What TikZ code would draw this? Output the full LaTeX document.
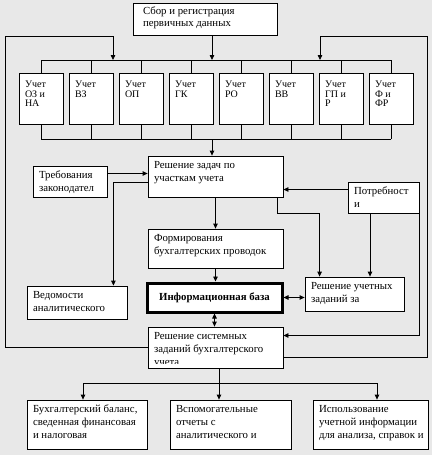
\documentclass[tikz,border=0pt]{standalone}
\usepackage{fontspec}
\setmainfont{Liberation Serif}
\usetikzlibrary{arrows.meta,calc,positioning}
\definecolor{sheetgray}{HTML}{E8E8E8}

\begin{document}
\begin{tikzpicture}[x=1pt,y=-1pt,>={Triangle[length=5pt,width=4.5pt]},
    line width=0.8pt,
    box/.style={draw,fill=white,inner sep=0pt},
    txt/.style={anchor=north west,align=left,inner xsep=6pt,inner ysep=5pt,
      font=\fontsize{10.8}{13}\selectfont},
    small/.style={anchor=north west,align=left,inner xsep=6pt,inner ysep=8pt,
      font=\fontsize{10}{9.6}\selectfont}]

    \path[use as bounding box,fill=sheetgray] (0,0) rectangle (432,455);

    % source of the data
    \node[box,minimum width=144,minimum height=32] (sbor) at (205,19) {};
    \node[txt,inner xsep=10pt,inner ysep=4pt,
      font=\fontsize{10.8}{12}\selectfont] (sbor-t) at (sbor.north west)
      {Сбор и регистрация\\первичных данных};

    \coordinate (topbus) at (212,60);
    \coordinate (botbus) at (212,139);
    \coordinate (loopL) at (113,60);
    \coordinate (loopR) at (320,60);

    % the eight accounting areas
    \foreach \i/\lbl in {1/{Учет\\ОЗ и\\НА},2/{Учет\\ВЗ},3/{Учет\\ОП},
        4/{Учет\\ГК},5/{Учет\\РО},6/{Учет\\ВВ},7/{Учет\\ГП и\\Р},
        8/{Учет\\Ф и\\ФР}} {
      \node[box,minimum width=44,minimum height=51] (acc\i)
        at ({-9+50*\i},98.5) {};
      \node[small] (acc\i-t) at (acc\i.north west) {\lbl};
      \draw (acc\i.north) -- (acc\i.north |- topbus);
      \draw (acc\i.south) -- (acc\i.south |- botbus);
    }
    \draw (acc1.north |- topbus) -- (acc8.north |- topbus);
    \draw (acc1.south |- botbus) -- (acc8.south |- botbus);
    \draw[->] (sbor.south -| topbus) -- (topbus);

    % middle column
    \node[box,minimum width=135,minimum height=41] (resh) at (215.5,176.5) {};
    \node[txt] (resh-t) at (resh.north west) {Решение задач по\\участкам учета};
    \node[box,minimum width=135,minimum height=39] (form) at (215.5,248.5) {};
    \node[txt] (form-t) at (form.north west)
      {Формирования\\бухгалтерских проводок};
    \node[box,line width=3pt,minimum width=135,minimum height=29,
      font=\fontsize{10.8}{13}\selectfont\bfseries] (info) at (214.5,297.5)
      {Информационная база};
    \node[box,minimum width=135,minimum height=41] (rsys) at (215.5,347.5) {};
    \begin{scope}
      \clip (rsys.north west) rectangle ($(rsys.south east)+(0,-4.5)$);
      \node[txt] (rsys-t) at (rsys.north west)
        {Решение системных\\заданий бухгалтерского\\учета};
    \end{scope}

    % side boxes
    \node[box,minimum width=74,minimum height=31] (treb) at (70,181.5) {};
    \node[txt] (treb-t) at (treb.north west) {Требования\\законодател};
    \node[box,minimum width=71,minimum height=31] (potr) at (383.5,197.5) {};
    \node[txt] (potr-t) at (potr.north west) {Потребност\\и};
    \node[box,minimum width=100,minimum height=33] (ved) at (77,302.5) {};
    \node[txt] (ved-t) at (ved.north west) {Ведомости\\аналитического};
    \node[box,minimum width=99,minimum height=34] (ruch) at (354.5,294) {};
    \node[txt] (ruch-t) at (ruch.north west) {Решение учетных\\заданий за};

    % reports
    \node[box,minimum width=120,minimum height=49] (repA) at (87,424.5) {};
    \node[txt] (repA-t) at (repA.north west)
      {Бухгалтерский баланс,\\сведенная финансовая\\и налоговая};
    \node[box,minimum width=121,minimum height=49] (repB) at (230.5,424.5) {};
    \node[txt] (repB-t) at (repB.north west)
      {Вспомогательные\\отчеты с\\аналитического и};
    \node[box,minimum width=115,minimum height=49] (repC) at (370.5,424.5) {};
    \node[txt] (repC-t) at (repC.north west)
      {Использование\\учетной информации\\для анализа, справок и};

    % connectors
    \draw[->] (botbus) -- (botbus |- resh.north);
    \path ($(treb.east)+(0,-8)$) coordinate (trebout);
    \draw[->] (trebout) -- (trebout -| resh.west);
    \path ($(potr.west)+(0,-8)$) coordinate (potrout);
    \draw[->] (potrout) -- (potrout -| resh.east);
    \draw[->] ($(resh.west)+(0,6)$) -| ($(ved.north east)+(-14,0)$);
    \path ($(ruch.north west)+(15,0)$) coordinate (ruchin);
    \draw[->] ($(resh.south east)+(-6,0)$) -- ++(0,16) -| (ruchin);
    \path ($(potr.south)+(-13.5,0)$) coordinate (potrdown);
    \draw[->] (potrdown) -- (potrdown |- ruch.north);
    \draw[->] (resh.south) -- (form.north);
    \draw[->] (form.south) -- (form.south |- info.north);
    \draw[<->] (info.east) -- (info.east -| ruch.west);
    \draw[<->] (info.south) -- (info.south |- rsys.north);
    \draw[->] (potr.south east) |- ($(rsys.east)+(0,-12)$);

    % feedback loops
    \draw[->] (rsys.west) -| (5,36) -| (loopL);
    \draw[->] ($(rsys.east)+(0,10)$) -| (427,36) -| (loopR);

    % to the reports
    \draw ($(rsys.south)+(3.5,0)$) -- ++(0,15) coordinate (split);
    \foreach \r/\dx in {repA/-4,repB/-11.5,repC/6.5}
      \draw[->] (split) -| ($(\r.north)+(\dx,0)$);
  \end{tikzpicture}
\end{document}
